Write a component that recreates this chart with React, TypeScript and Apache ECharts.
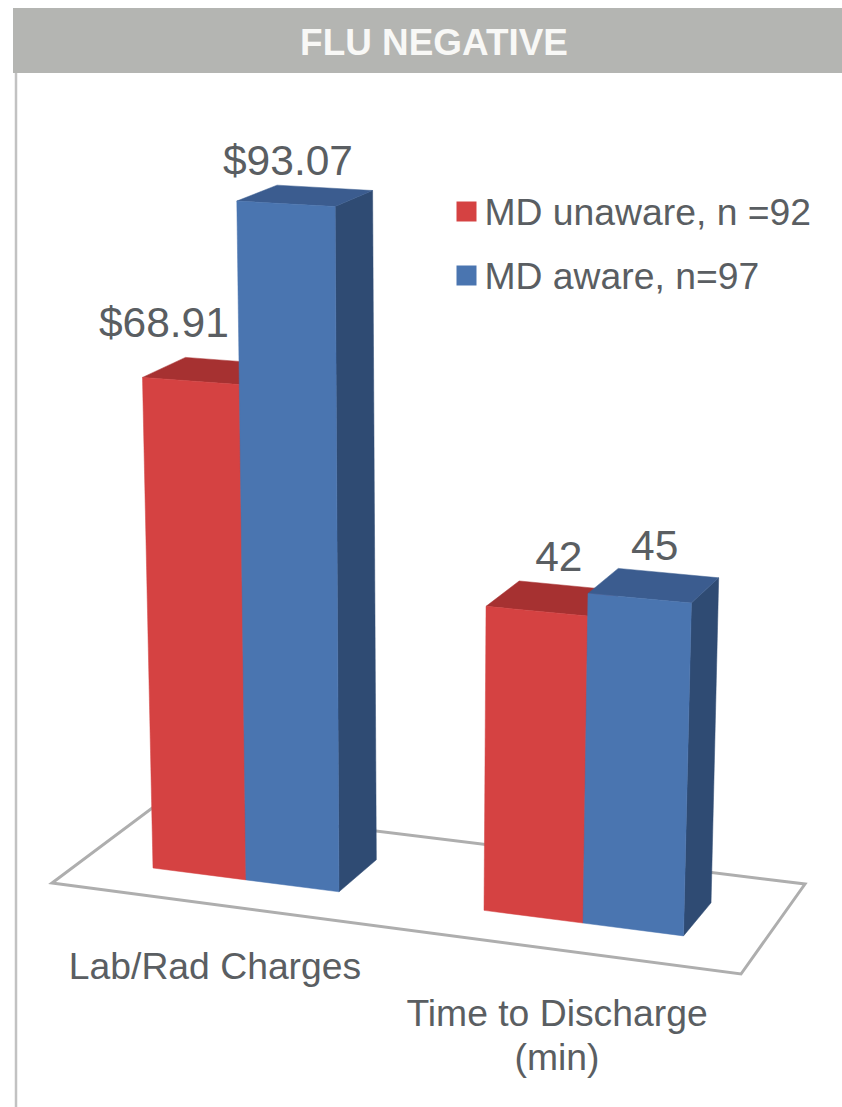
import React, { useEffect, useRef } from "react";
import * as echarts from "echarts";

const categories = ["Lab/Rad Charges", "Time to Discharge\n(min)"];
const seriesNames = ["MD unaware, n =92", "MD aware, n=97"];
const unawareValues = [68.91, 42];
const awareValues = [93.07, 45];
const titleText = "FLU NEGATIVE";

const FONT = '"Liberation Sans", Arial, sans-serif';
const TEXT = "#5a5e62";
const FRONT = ["#d54242", "#4a75b0"];
const TOP = ["#a63131", "#3b5c8f"];
const SIDE = ["#8f2a2a", "#2f4b73"];
// label nudges [dx, gap above the bar's back edge], per series then category
const LABEL_NUDGE = [
  [[-27, 35], [22, 24]],
  [[2, 25], [15, 23]],
];

const floorY = (x: number) => 868 + 0.128 * (x - 153);
const rise = (x: number, flat: number) =>
  flat * (1 + flat * 9.2e-5) * (1 + 1e-4 * (x - 400));
const lift = (x: number, flat: number): number[] => {
  const h = rise(x, flat);
  return [x + (x - 405) * 8.5e-5 * h, floorY(x) - h];
};
const toBack = (p: number[]): number[] => [
  p[0] + 47 - 0.0285 * p[0],
  p[1] - 16 - 0.0234 * (p[1] - 206),
];

const labelFor = (cat: number, v: number) => (cat === 0 ? `$${v.toFixed(2)}` : String(v));

function barItem(seriesIdx: number) {
  return (_params: any, api: any) => {
    const cat = api.value(0);
    const v = api.value(1);
    const c = api.coord([cat, v]);
    const c0 = api.coord([cat, 0]);
    const flat = c0[1] - c[1];
    const cx = c[0];
    const w = seriesIdx === 0 ? 93 + (cx - 246) * 0.0178 : 93 + (cx - 246) * 0.0223;
    const xl = seriesIdx === 0 ? cx - w : cx;
    const xr = seriesIdx === 0 ? cx : cx + w;
    const bl = [xl, floorY(xl)];
    const br = [xr, floorY(xr)];
    const tl = lift(xl, flat);
    const tr = lift(xr, flat);
    const poly = (points: number[][], fill: string) => ({
      type: "polygon",
      shape: { points },
      style: { fill, stroke: fill, lineWidth: 0.5 },
    });
    const nudge = LABEL_NUDGE[seriesIdx][cat];
    return {
      type: "group",
      children: [
        poly([br, tr, toBack(tr), toBack(br)], SIDE[seriesIdx]),
        poly([tl, tr, toBack(tr), toBack(tl)], TOP[seriesIdx]),
        poly([bl, br, tr, tl], FRONT[seriesIdx]),
        {
          type: "text",
          style: {
            text: labelFor(cat, v),
            x: (tl[0] + tr[0]) / 2 + nudge[0],
            y: toBack(tl)[1] - nudge[1],
            align: "center",
            verticalAlign: "middle",
            fontFamily: FONT,
            fontSize: 42.5,
            fill: TEXT,
          },
        },
      ],
    };
  };
}

export default function App() {
  const ref = useRef<HTMLDivElement>(null);
  useEffect(() => {
    document.body.style.margin = "0";
    const chart = echarts.init(ref.current!, undefined, { renderer: "svg" });
    const makeSeries = (idx: number, values: number[]) => ({
      type: "custom",
      name: seriesNames[idx],
      coordinateSystem: "cartesian2d",
      renderItem: barItem(idx),
      itemStyle: { color: FRONT[idx] },
      encode: { x: 0, y: 1 },
      data: values.map((v, i) => [i, v]),
      z: 2 + idx,
      clip: false,
    });
    chart.setOption({
      animation: false,
      backgroundColor: "#ffffff",
      title: {
        text: titleText,
        left: 429,
        top: 19,
        textAlign: "center",
        textStyle: { color: "#f8f8f6", fontFamily: FONT, fontSize: 36.9, fontWeight: "bold" },
      },
      legend: {
        orient: "vertical",
        left: 451.5,
        top: 188,
        itemWidth: 20,
        itemHeight: 20,
        itemGap: 27,
        icon: "rect",
        data: seriesNames,
        selectedMode: false,
        textStyle: { color: TEXT, fontFamily: FONT, fontSize: 37.3, padding: [0, 0, 0, 3] },
      },
      grid: { left: 77.5, top: 181, width: 674, height: 699 },
      xAxis: { type: "category", data: categories, show: false },
      yAxis: { type: "value", min: 0, max: 100, show: false },
      graphic: [
        { type: "rect", shape: { x: 13, y: 8, width: 829, height: 65 }, style: { fill: "#b4b5b2" }, z: 0 },
        { type: "line", shape: { x1: 16, y1: 73, x2: 16, y2: 1107 }, style: { stroke: "#c2c2c2", lineWidth: 2.5 }, z: 0 },
        {
          type: "polygon",
          shape: { points: [[52, 883], [741, 974], [805, 884], [157.5, 804]] },
          style: { fill: "#ffffff", stroke: "#aeaeae", lineWidth: 3 },
          z: 0,
        },
        {
          type: "text",
          x: 215,
          y: 966,
          style: { text: categories[0], align: "center", verticalAlign: "middle", fontFamily: FONT, fontSize: 37.3, fill: TEXT },
          z: 5,
        },
        {
          type: "text",
          x: 557,
          y: 1035,
          style: { text: categories[1], align: "center", verticalAlign: "middle", lineHeight: 44, fontFamily: FONT, fontSize: 37.3, fill: TEXT },
          z: 5,
        },
      ],
      series: [makeSeries(0, unawareValues), makeSeries(1, awareValues)],
    });
    return () => chart.dispose();
  }, []);
  return <div ref={ref} style={{ position: "absolute", left: 0, top: 0, width: 842, height: 1107 }} />;
}
